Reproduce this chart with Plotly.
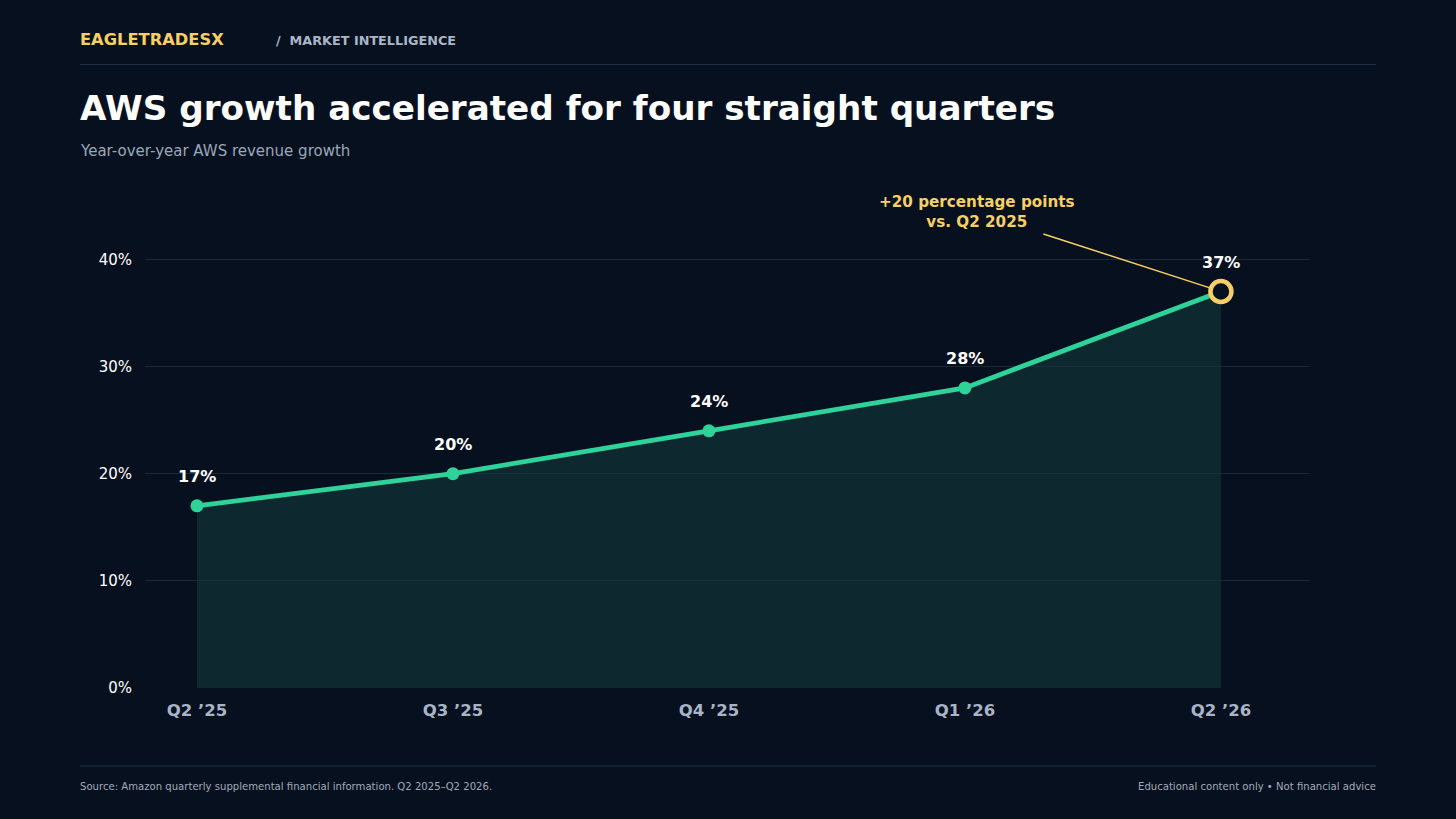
import plotly.graph_objects as go

quarters = ["Q2 ’25", "Q3 ’25", "Q4 ’25", "Q1 ’26", "Q2 ’26"]
growth = [17, 20, 24, 28, 37]
y_ticks = [0, 10, 20, 30, 40]
y_tick_labels = ["0%", "10%", "20%", "30%", "40%"]

BG = "#07101e"
GREEN = "#2fd39a"
GOLD = "#f7cf66"
FONT = "DejaVu Sans"

W, H = 1456, 819
L, R = 145, 1310
B_PIX = 688
Y_MAX = 46
TOP_PIX = B_PIX - Y_MAX * (B_PIX - 259) / 40.0

fig = go.Figure()
x_idx = list(range(len(quarters)))

fig.add_trace(go.Scatter(
    x=x_idx, y=growth, mode="lines", fill="tozeroy",
    fillcolor="rgba(18,62,62,0.55)",
    line=dict(color="rgba(30,80,80,0.0)", width=0),
    hoverinfo="skip", showlegend=False,
))
fig.add_trace(go.Scatter(
    x=x_idx, y=growth, mode="lines",
    line=dict(color=GREEN, width=4.8), showlegend=False,
))
fig.add_trace(go.Scatter(
    x=x_idx[:-1], y=growth[:-1], mode="markers",
    marker=dict(color=GREEN, size=13), showlegend=False,
))
fig.add_trace(go.Scatter(
    x=[x_idx[-1]], y=[growth[-1]], mode="markers",
    marker=dict(color=BG, size=21, line=dict(color=GOLD, width=4.5)),
    showlegend=False,
))

for i, v in enumerate(growth):
    fig.add_annotation(x=i, y=v, text=f"<b>{v}%</b>", showarrow=False,
                       yshift=29, font=dict(family=FONT, size=16, color="#ffffff"))

# callout line
fig.add_annotation(
    x=x_idx[-1], y=growth[-1], ax=-179, ay=-58, axref="pixel", ayref="pixel",
    text="", showarrow=True, arrowhead=0, arrowwidth=1.5, arrowcolor=GOLD,
    standoff=10,
)


def page_text(x, y, text, size, color, anchor="left", bold=False):
    t = f"<b>{text}</b>" if bold else text
    fig.add_annotation(
        x=(x - L) / (R - L), y=(B_PIX - y) / (B_PIX - TOP_PIX), xref="paper", yref="paper",
        text=t, showarrow=False, xanchor=anchor, yanchor="middle",
        font=dict(family=FONT, size=size, color=color),
    )

page_text(977, 212, "+20 percentage points<br>vs. Q2 2025", 15.2, GOLD, anchor="center", bold=True)
page_text(78, 39, "EAGLETRADESX", 16.3, GOLD, bold=True)
page_text(274, 40, "/  MARKET INTELLIGENCE", 12.8, "#aab6c8", bold=True)
page_text(78, 108, "AWS growth accelerated for four straight quarters", 34.2, "#ffffff", bold=True)
page_text(78, 151, "Year-over-year AWS revenue growth", 15, "#9aa7b8")
page_text(78, 787, "Source: Amazon quarterly supplemental financial information. Q2 2025–Q2 2026.", 10.1, "#a0abba")
page_text(1378, 787, "Educational content only • Not financial advice", 10.1, "#a0abba", anchor="right")


def hline(y):
    fig.add_shape(type="line", xref="paper", yref="paper",
                  x0=(80 - L) / (R - L), x1=(1376 - L) / (R - L),
                  y0=(B_PIX - y) / (B_PIX - TOP_PIX), y1=(B_PIX - y) / (B_PIX - TOP_PIX),
                  line=dict(color="#1e3044", width=1))

hline(64)
hline(766)

fig.update_layout(
    width=W, height=H,
    paper_bgcolor=BG, plot_bgcolor=BG,
    margin=dict(l=L, r=W - R, t=TOP_PIX, b=H - B_PIX, autoexpand=False),
    showlegend=False,
    xaxis=dict(
        range=[-0.203, 4.348], tickmode="array", tickvals=x_idx,
        ticktext=[f"<b>{q}</b>" for q in quarters],
        tickfont=dict(family=FONT, size=16.5, color="#a9b4c6"),
        showgrid=False, zeroline=False, showline=False, ticks="",
        ticklabelstandoff=10,
    ),
    yaxis=dict(
        range=[0, Y_MAX], tickmode="array", tickvals=y_ticks, ticktext=y_tick_labels,
        tickfont=dict(family=FONT, size=15, color="#ffffff"),
        gridcolor="#1a2837", gridwidth=1, zeroline=False, showline=False,
        ticks="", ticklabelstandoff=12,
    ),
)

fig.write_html("out.html", config={"displayModeBar": False},
               post_script="document.body.style.margin='0';document.body.style.background='#07101e';")
